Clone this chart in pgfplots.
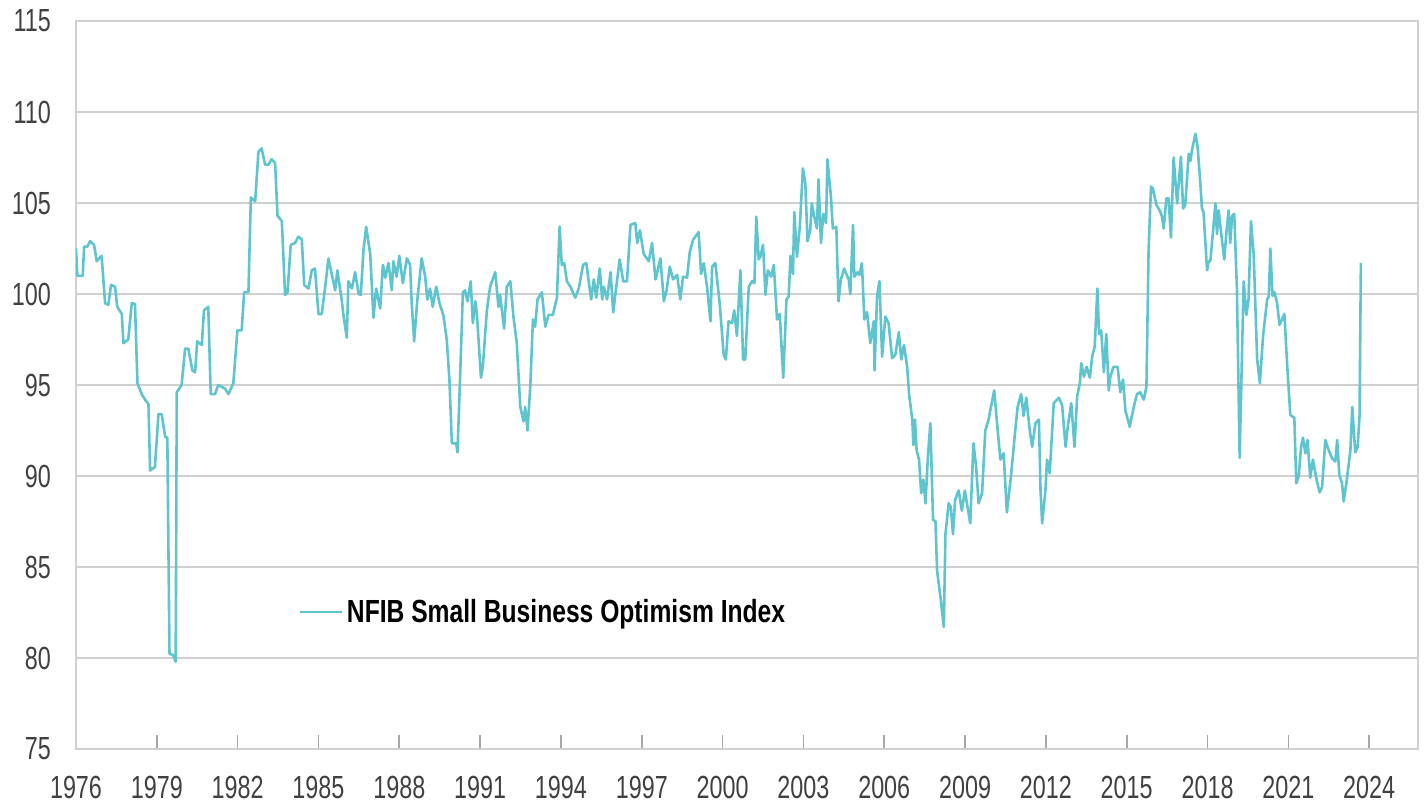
\documentclass[border=0pt]{standalone}
\usepackage{pgfplots}
\pgfplotsset{compat=1.18}
\usepackage{fontspec}
\setmainfont[FakeStretch=0.73]{Liberation Sans}
\newfontfamily\legfont[FakeStretch=0.77]{Liberation Sans}
\definecolor{nfib}{RGB}{94,196,205}
\definecolor{tickgray}{RGB}{64,64,64}
\definecolor{gridgray}{RGB}{208,208,208}

% index values, x in fractional years
\pgfplotstableread{
x y
1976.00 102.5
1976.05 101.0
1976.25 101.0
1976.30 102.6
1976.42 102.6
1976.52 102.9
1976.67 102.7
1976.77 101.8
1976.95 102.1
1977.08 99.5
1977.20 99.4
1977.30 100.5
1977.45 100.4
1977.53 99.3
1977.70 98.9
1977.76 97.3
1977.94 97.5
1978.07 99.5
1978.19 99.45
1978.28 95.1
1978.44 94.5
1978.56 94.2
1978.69 93.95
1978.75 90.3
1978.93 90.5
1979.06 93.4
1979.18 93.4
1979.31 92.15
1979.39 92.1
1979.47 80.25
1979.61 80.15
1979.70 79.8
1979.74 94.6
1979.92 95.0
1980.05 97.0
1980.17 97.0
1980.32 95.8
1980.42 95.7
1980.50 97.4
1980.67 97.2
1980.75 99.1
1980.91 99.3
1981.00 94.5
1981.16 94.5
1981.28 95.0
1981.53 94.8
1981.66 94.5
1981.84 95.1
1981.99 98.0
1982.15 98.0
1982.24 100.1
1982.40 100.1
1982.49 105.3
1982.65 105.1
1982.77 107.8
1982.89 108.0
1983.02 107.1
1983.14 107.1
1983.26 107.4
1983.39 107.2
1983.48 104.3
1983.64 104.0
1983.76 99.95
1983.85 100.1
1983.97 102.7
1984.13 102.8
1984.25 103.15
1984.38 103.0
1984.47 100.5
1984.63 100.3
1984.75 101.3
1984.87 101.4
1985.00 98.9
1985.12 98.9
1985.25 100.4
1985.37 101.95
1985.49 101.1
1985.62 100.2
1985.70 101.3
1985.86 99.7
1985.93 98.8
1986.05 97.6
1986.11 100.7
1986.24 100.3
1986.36 101.2
1986.49 100.0
1986.57 99.95
1986.67 102.4
1986.77 103.7
1986.92 102.2
1987.04 98.7
1987.14 100.3
1987.29 99.2
1987.39 101.6
1987.48 100.9
1987.60 101.7
1987.72 100.2
1987.78 101.8
1987.90 100.95
1988.00 102.1
1988.13 100.6
1988.28 101.96
1988.40 101.6
1988.46 99.5
1988.55 97.4
1988.67 99.7
1988.83 101.96
1988.96 100.95
1989.04 99.7
1989.14 100.3
1989.24 99.3
1989.37 100.4
1989.49 99.5
1989.64 98.8
1989.76 97.5
1989.86 95.3
1989.95 91.8
1990.11 91.8
1990.16 91.3
1990.26 95.6
1990.36 100.1
1990.44 100.2
1990.53 99.6
1990.65 100.7
1990.73 98.4
1990.82 99.6
1990.88 98.9
1991.03 95.4
1991.10 96.0
1991.25 99.1
1991.37 100.4
1991.56 101.2
1991.68 99.3
1991.74 99.95
1991.89 98.1
1991.99 100.4
1992.12 100.7
1992.24 98.7
1992.36 97.3
1992.49 93.8
1992.61 93.0
1992.67 93.8
1992.76 92.5
1992.86 94.9
1992.96 98.6
1993.04 98.2
1993.13 99.7
1993.29 100.1
1993.42 98.2
1993.54 98.85
1993.70 98.85
1993.85 99.8
1993.95 103.7
1994.03 101.6
1994.12 101.7
1994.22 100.7
1994.35 100.4
1994.53 99.8
1994.66 100.3
1994.82 101.6
1994.94 101.7
1995.03 100.7
1995.12 99.7
1995.22 100.8
1995.31 99.8
1995.44 101.4
1995.53 99.7
1995.59 100.4
1995.71 99.7
1995.84 101.2
1995.94 99.0
1996.02 100.0
1996.18 101.9
1996.31 100.7
1996.45 100.7
1996.58 103.8
1996.76 103.9
1996.83 102.8
1996.93 103.5
1997.07 102.2
1997.26 101.8
1997.38 102.8
1997.51 100.8
1997.69 101.96
1997.82 99.6
1997.92 100.2
1998.04 101.5
1998.16 100.8
1998.31 101.05
1998.43 99.7
1998.53 100.95
1998.68 100.9
1998.78 102.3
1998.90 102.97
1999.11 103.4
1999.20 101.1
1999.30 101.7
1999.42 100.4
1999.55 98.5
1999.61 101.5
1999.73 101.7
1999.89 99.5
2000.04 96.65
2000.12 96.4
2000.22 98.5
2000.35 98.4
2000.43 99.1
2000.53 97.7
2000.66 101.3
2000.76 96.4
2000.84 96.4
2000.97 100.4
2001.09 100.7
2001.18 100.6
2001.25 104.25
2001.34 101.9
2001.40 102.05
2001.50 102.7
2001.59 99.95
2001.68 101.3
2001.80 100.95
2001.90 101.6
2002.02 98.6
2002.12 98.9
2002.25 95.4
2002.37 99.7
2002.45 99.85
2002.52 102.1
2002.61 101.1
2002.66 104.5
2002.76 102.05
2002.86 103.6
2002.98 106.9
2003.07 106.1
2003.15 102.9
2003.25 103.5
2003.31 104.98
2003.40 104.25
2003.50 103.6
2003.56 106.3
2003.65 102.8
2003.74 104.4
2003.84 103.9
2003.89 107.4
2004.02 105.35
2004.09 103.6
2004.22 103.7
2004.30 99.6
2004.39 100.8
2004.51 101.4
2004.68 100.8
2004.74 100.0
2004.84 103.8
2004.89 100.95
2005.01 101.2
2005.08 101.05
2005.17 101.7
2005.26 98.6
2005.36 99.0
2005.48 97.3
2005.61 98.5
2005.64 95.8
2005.73 99.85
2005.82 100.7
2005.92 96.56
2006.04 98.76
2006.16 98.4
2006.29 96.47
2006.41 96.65
2006.54 97.9
2006.63 96.4
2006.73 97.2
2006.85 96.0
2006.92 94.5
2007.04 93.1
2007.08 91.7
2007.14 93.1
2007.20 91.4
2007.29 90.9
2007.37 89.05
2007.45 89.8
2007.53 88.5
2007.62 91.1
2007.71 92.9
2007.81 87.6
2007.90 87.5
2007.96 84.8
2008.08 83.4
2008.21 81.7
2008.27 86.8
2008.39 88.5
2008.47 88.3
2008.55 86.8
2008.63 88.7
2008.76 89.2
2008.88 88.1
2008.99 89.2
2009.09 88.3
2009.19 87.4
2009.31 91.8
2009.41 90.5
2009.50 88.5
2009.63 89.05
2009.75 92.5
2009.87 93.1
2010.08 94.7
2010.21 92.5
2010.31 90.9
2010.43 91.25
2010.55 88.0
2010.70 89.96
2010.86 92.5
2010.95 93.8
2011.08 94.5
2011.17 93.3
2011.27 94.3
2011.40 92.5
2011.49 91.6
2011.61 92.9
2011.74 93.1
2011.80 89.2
2011.86 87.4
2011.98 89.2
2012.04 90.9
2012.14 90.15
2012.29 94.0
2012.48 94.3
2012.60 93.9
2012.73 91.6
2012.81 92.7
2012.94 94.0
2013.06 91.6
2013.16 94.4
2013.26 95.1
2013.31 96.2
2013.41 95.45
2013.51 96.0
2013.63 95.4
2013.72 96.6
2013.81 97.1
2013.91 100.3
2013.97 97.8
2014.05 98.0
2014.15 95.7
2014.24 97.8
2014.33 94.7
2014.39 95.45
2014.51 96.0
2014.66 96.0
2014.76 94.6
2014.86 95.3
2014.95 93.6
2015.11 92.7
2015.26 93.8
2015.38 94.5
2015.50 94.6
2015.63 94.2
2015.73 94.9
2015.81 102.4
2015.90 105.9
2015.97 105.8
2016.10 104.9
2016.22 104.6
2016.30 104.3
2016.37 103.6
2016.47 105.26
2016.55 105.26
2016.64 103.1
2016.74 107.5
2016.87 104.98
2017.01 107.55
2017.09 104.7
2017.17 104.9
2017.30 107.7
2017.36 107.3
2017.42 107.9
2017.55 108.8
2017.63 108.1
2017.73 106.1
2017.79 104.7
2017.85 104.5
2017.98 101.3
2018.04 101.8
2018.10 101.8
2018.20 103.4
2018.29 104.98
2018.35 103.3
2018.41 104.6
2018.53 103.0
2018.62 101.9
2018.70 103.4
2018.78 104.6
2018.84 102.8
2018.91 104.3
2018.99 104.4
2019.09 100.2
2019.19 91.0
2019.28 96.9
2019.34 100.7
2019.44 98.85
2019.52 99.7
2019.61 104.0
2019.71 102.2
2019.84 96.4
2019.94 95.1
2020.06 97.7
2020.21 99.7
2020.27 99.85
2020.33 102.5
2020.41 99.9
2020.48 100.1
2020.58 99.5
2020.67 98.3
2020.76 98.6
2020.85 98.9
2020.95 96.2
2021.07 93.35
2021.22 93.2
2021.29 89.6
2021.38 89.96
2021.47 91.6
2021.54 92.1
2021.63 91.25
2021.71 91.98
2021.81 89.9
2021.91 90.9
2022.00 90.15
2022.06 89.7
2022.16 89.1
2022.25 89.4
2022.37 91.98
2022.50 91.4
2022.62 90.97
2022.74 90.8
2022.81 91.98
2022.89 90.06
2022.99 89.6
2023.05 88.6
2023.15 89.6
2023.30 91.4
2023.37 93.8
2023.48 91.3
2023.57 91.6
2023.64 93.3
2023.69 101.7
}\nfib

\begin{document}
\begin{tikzpicture}
\path[use as bounding box] (-38pt,-28pt) rectangle (674.5pt,374.5pt);
\begin{axis}[
	at={(0pt,0pt)}, anchor=south west,
	scale only axis,
	width=671pt, height=364pt,
	xmin=1976, xmax=2025.81,
	ymin=75, ymax=115,
	xtick={1976,1979,...,2024},
	ytick={75,80,...,115},
	/pgf/number format/1000 sep={},
	/pgf/number format/assume math mode=true,
	ticklabel style={font=\fontsize{16}{18}\selectfont, text=tickgray},
	xticklabel style={yshift=-10pt},
	yticklabel style={xshift=-9pt},
	tick pos=bottom,
	major tick length=7pt,
	xtick style={gridgray!80!black, line width=0.8pt},
	ytick style={draw=none},
	ymajorgrids=true,
	grid style={gridgray, line width=1pt},
	axis line style={gridgray, line width=1pt},
	legend style={at={(0.1654,0.188)}, anchor=west, draw=none, fill=none,
		font=\legfont\bfseries\fontsize{16}{18}\selectfont, inner sep=0pt},
	legend image code/.code={\draw[#1] (0pt,0pt) -- (21pt,0pt);},
]
\addplot[color=nfib, line width=1.3pt, line join=round] table[x=x, y=y] {\nfib};
\addlegendentry{NFIB Small Business Optimism Index}
\end{axis}
\end{tikzpicture}
\end{document}
